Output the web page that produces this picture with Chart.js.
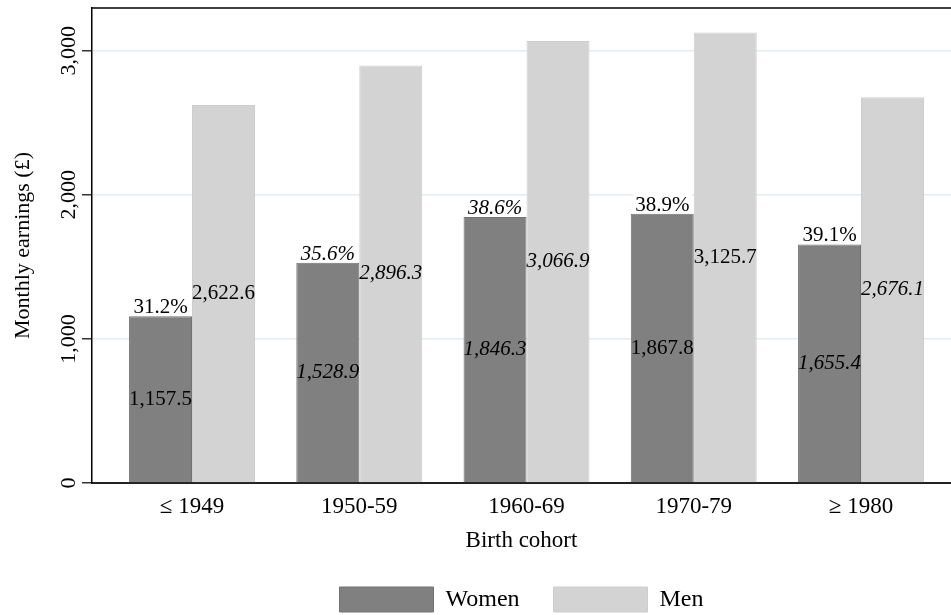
<!DOCTYPE html>
<html>
<head>
<meta charset="utf-8">
<script src="https://cdn.jsdelivr.net/npm/chart.js@4"></script>
<style>
  body { margin: 0; background: #fff; }
</style>
</head>
<body>
<canvas id="graph" width="951" height="615"></canvas>
<script>
const cohorts = ["≤ 1949", "1950-59", "1960-69", "1970-79", "≥ 1980"];
const women = [1157.5, 1528.9, 1846.3, 1867.8, 1655.4];
const men = [2622.6, 2896.3, 3066.9, 3125.7, 2676.1];
const gapShare = [31.2, 35.6, 38.6, 38.9, 39.1];
const yTicks = [0, 1000, 2000, 3000];

// labels that are set in italics in the original
const italicWomen = [false, true, true, false, true];
const italicMen = [false, true, true, false, true];
const italicShare = [false, true, true, false, false];

const serif = "'Liberation Serif', 'Times New Roman', serif";
Chart.defaults.font.family = serif;
Chart.defaults.color = "#000";

const fmt1 = v => v.toLocaleString("en-US", {minimumFractionDigits: 1, maximumFractionDigits: 1});

const barLabels = {
  id: "barLabels",
  afterDatasetsDraw(chart) {
    const ctx = chart.ctx;
    const wBars = chart.getDatasetMeta(0).data;
    const mBars = chart.getDatasetMeta(1).data;
    ctx.save();
    ctx.textAlign = "center";
    wBars.forEach((bar, i) => {
      const mb = mBars[i];
      ctx.fillStyle = "#000";
      ctx.textBaseline = "middle";
      ctx.font = (italicWomen[i] ? "italic " : "") + "21px " + serif;
      ctx.fillText(fmt1(women[i]), bar.x, (bar.y + bar.base) / 2);
      ctx.font = (italicMen[i] ? "italic " : "") + "21px " + serif;
      ctx.fillText(fmt1(men[i]), mb.x, (mb.y + mb.base) / 2);

      // share label sits on a white box above the women's bar
      ctx.font = (italicShare[i] ? "italic " : "") + "21px " + serif;
      const txt = gapShare[i].toFixed(1) + "%";
      const tw = ctx.measureText(txt).width;
      ctx.fillStyle = "#fff";
      ctx.fillRect(bar.x - tw / 2 - 2, bar.y - 20, tw + 4, 19);
      ctx.fillStyle = "#000";
      ctx.textBaseline = "alphabetic";
      ctx.fillText(txt, bar.x, bar.y - 3);
    });
    ctx.restore();
  }
};

const topFrame = {
  id: "topFrame",
  afterDraw(chart) {
    const {ctx, chartArea} = chart;
    ctx.save();
    ctx.strokeStyle = "#000";
    ctx.lineWidth = 1.5;
    ctx.beginPath();
    ctx.moveTo(chartArea.left, chartArea.top);
    ctx.lineTo(chartArea.right, chartArea.top);
    ctx.stroke();
    ctx.restore();
  }
};

let graph = document.getElementById("graph").getContext("2d");
let earningsChart = new Chart(graph, {
  type: "bar",
  data: {
    datasets: [
      {
        label: "Women",
        data: women.map((v, i) => ({x: i, y: v})),
        backgroundColor: "#808080",
        borderColor: "#727272",
        borderWidth: 1,
      },
      {
        label: "Men",
        data: men.map((v, i) => ({x: i, y: v})),
        backgroundColor: "#d3d3d3",
        borderColor: "#cdcdcd",
        borderWidth: 1,
      },
    ],
  },
  options: {
    responsive: false,
    animation: false,
    categoryPercentage: 0.753,
    barPercentage: 1,
    layout: {padding: {top: 8, left: 6, right: 0, bottom: -7}},
    plugins: {
      legend: {
        position: "bottom",
        fullSize: false,
        labels: {
          font: {size: 24},
          boxWidth: 94,
          boxHeight: 25,
          padding: 34,
        },
      },
      tooltip: {enabled: false},
    },
    scales: {
      x: {
        type: "linear",
        min: -0.598,
        max: 4.538,
        offset: false,
        grid: {display: false, drawTicks: false, offset: false},
        border: {color: "#222", width: 2},
        afterBuildTicks: s => { s.ticks = cohorts.map((c, i) => ({value: i})); },
        ticks: {
          callback: v => cohorts[v],
          font: {size: 23},
          padding: 10,
          maxRotation: 0,
          autoSkip: false,
        },
        title: {display: true, text: "Birth cohort", font: {size: 23}, padding: {top: 4, bottom: -2}},
        afterFit: s => { s.height = 70; },
      },
      y: {
        min: 0,
        max: 3296,
        afterBuildTicks: s => { s.ticks = yTicks.map(v => ({value: v})); },
        ticks: {
          callback: v => v.toLocaleString("en-US"),
          font: {size: 22},
          minRotation: 90,
          maxRotation: 90,
          crossAlign: "center",
          padding: -12,
        },
        grid: {
          color: c => (c.tick && c.tick.value === 0) ? "rgba(0,0,0,0)" : "#e3ecf0",
          tickColor: "#333",
          tickLength: 10,
          lineWidth: 1.5,
        },
        border: {color: "#000", width: 1.5},
        title: {display: true, text: "Monthly earnings (£)", font: {size: 22}, padding: {top: 4, bottom: 4}},
        afterFit: s => { s.width = 86; },
      },
    },
  },
  plugins: [barLabels, topFrame],
});
</script>
</body>
</html>
